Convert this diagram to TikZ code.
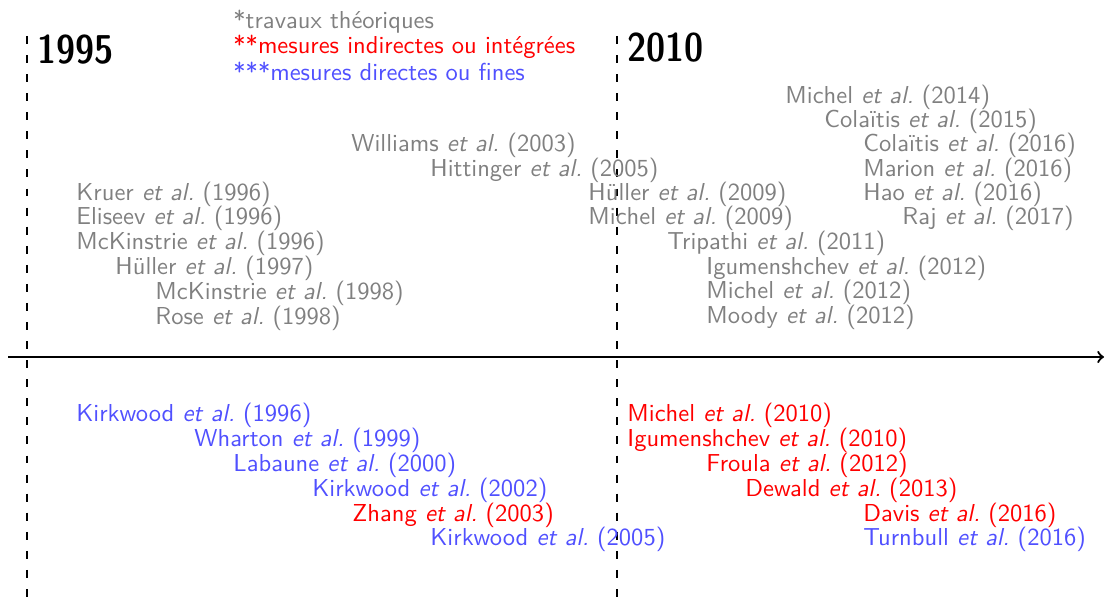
\documentclass[tikz,border=0pt]{standalone}
\usepackage{fontspec}
\newfontfamily\yearfont{Latin Modern Sans Demi Cond}
\definecolor{gtxt}{RGB}{128,128,128}
\definecolor{btxt}{RGB}{80,80,255}
\definecolor{rtxt}{RGB}{255,0,0}
\newcommand{\etal}{\textit{et al.}}
\begin{document}
\begin{tikzpicture}[x=0.43pt,y=-0.43pt,
  ref/.style={anchor=west,inner sep=0pt,yshift=-0.85pt,font=\sffamily\fontsize{10.55}{12}\selectfont},
  theo/.style={ref,text=gtxt},
  indir/.style={ref,text=rtxt},
  dir/.style={ref,text=btxt},
  year/.style={anchor=west,inner sep=0pt,font=\yearfont\LARGE\bfseries},
  vline/.style={line width=0.85pt,dash pattern=on 3.4pt off 4.8pt},
  axis/.style={line width=0.95pt,->}]
\useasboundingbox (0,0) rectangle (1105,599);
% dashed year lines
\coordinate (d1t) at (27,36);
\coordinate (d1b) at (27,599);
\coordinate (d2t) at (617,36);
\coordinate (d2b) at (617,599);
\draw[vline] (d1t) -- (d1b);
\draw[vline] (d2t) -- (d2b);
% axis
\coordinate (a0) at (8,357);
\coordinate (a1) at (1104,357);
\draw[axis] (a0) -- (a1);
% years
\node[year] (y1995) at (37,50) {1995};
\node[year] (y2010) at (627,48) {2010};
% legend
\node[theo] (l1) at (233,20) {*travaux théoriques};
\node[indir] (l2) at (233,45) {**mesures indirectes ou intégrées};
\node[dir] (l3) at (233,69) {***mesures directes ou fines};
% theoretical works
\node[theo] (t1) at (785,95) {Michel \etal\ (2014)};
\node[theo] (t2) at (824,119) {Colaïtis \etal\ (2015)};
\node[theo] (t3) at (863,143) {Colaïtis \etal\ (2016)};
\node[theo] (t4) at (863,168) {Marion \etal\ (2016)};
\node[theo] (t5) at (863,192) {Hao \etal\ (2016)};
\node[theo] (t6) at (902,216) {Raj \etal\ (2017)};
\node[theo] (t7) at (351,143) {Williams \etal\ (2003)};
\node[theo] (t8) at (430,168) {Hittinger \etal\ (2005)};
\node[theo] (t9) at (588,192) {Hüller \etal\ (2009)};
\node[theo] (t10) at (588,216) {Michel \etal\ (2009)};
\node[theo] (t11) at (667,241) {Tripathi \etal\ (2011)};
\node[theo] (t12) at (706,266) {Igumenshchev \etal\ (2012)};
\node[theo] (t13) at (706,290) {Michel \etal\ (2012)};
\node[theo] (t14) at (706,315) {Moody \etal\ (2012)};
\node[theo] (t15) at (76,192) {Kruer \etal\ (1996)};
\node[theo] (t16) at (76,216) {Eliseev \etal\ (1996)};
\node[theo] (t17) at (76,241) {McKinstrie \etal\ (1996)};
\node[theo] (t18) at (115,266) {Hüller \etal\ (1997)};
\node[theo] (t19) at (155,291) {McKinstrie \etal\ (1998)};
\node[theo] (t20) at (155,316) {Rose \etal\ (1998)};
% experiments
\node[dir] (e1) at (76,413) {Kirkwood \etal\ (1996)};
\node[dir] (e2) at (194,438) {Wharton \etal\ (1999)};
\node[dir] (e3) at (233,463) {Labaune \etal\ (2000)};
\node[dir] (e4) at (312,488) {Kirkwood \etal\ (2002)};
\node[indir] (e5) at (352,513) {Zhang \etal\ (2003)};
\node[dir] (e6) at (430,537) {Kirkwood \etal\ (2005)};
\node[indir] (e7) at (627,413) {Michel \etal\ (2010)};
\node[indir] (e8) at (627,438) {Igumenshchev \etal\ (2010)};
\node[indir] (e9) at (706,463) {Froula \etal\ (2012)};
\node[indir] (e10) at (745,488) {Dewald \etal\ (2013)};
\node[indir] (e11) at (863,513) {Davis \etal\ (2016)};
\node[dir] (e12) at (863,537) {Turnbull \etal\ (2016)};
\end{tikzpicture}
\end{document}
